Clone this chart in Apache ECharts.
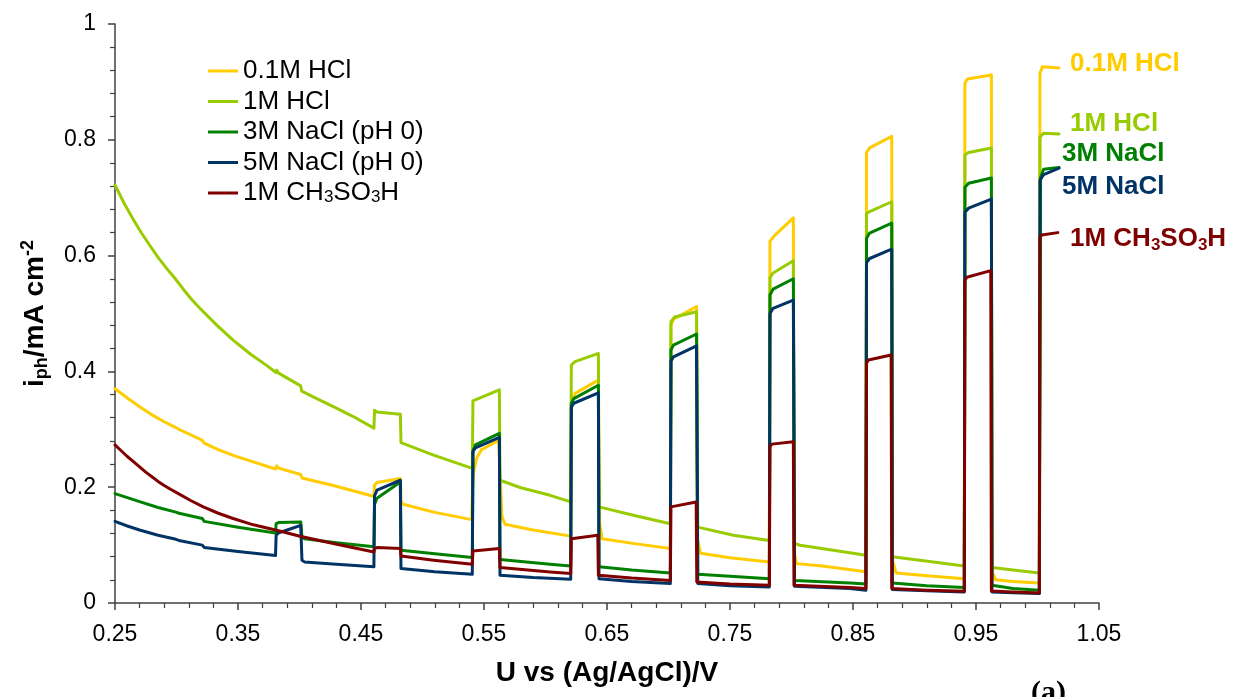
<!DOCTYPE html>
<html>
<head>
<meta charset="utf-8">
<script src="https://cdn.jsdelivr.net/npm/echarts@6/dist/echarts.min.js"></script>
<style>
  html, body { margin: 0; padding: 0; background: #ffffff; }
  #chart { width: 1233px; height: 697px; }
</style>
</head>
<body>
<div id="chart"></div>
<script>
// Chopped-light photocurrent scans: [potential (V vs Ag/AgCl), i_ph (mA cm^-2)]
const seriesNames = ['0.1M HCl', '1M HCl', '3M NaCl (pH 0)', '5M NaCl (pH 0)', '1M CH3SO3H'];
const seriesColors = ['#FFCC00', '#99CC00', '#008000', '#003366', '#800000'];
const xTicks = [0.25, 0.35, 0.45, 0.55, 0.65, 0.75, 0.85, 0.95, 1.05];
const yTicks = [0, 0.2, 0.4, 0.6, 0.8, 1];

const hcl01 = [
  [0.250, 0.370], [0.260, 0.354], [0.270, 0.339], [0.280, 0.325], [0.290, 0.313], [0.2995, 0.303], [0.300, 0.306], [0.302, 0.300],
  [0.311, 0.291], [0.321, 0.281], [0.3225, 0.276], [0.334, 0.265], [0.346, 0.255], [0.365, 0.242], [0.3805, 0.2315], [0.3815, 0.237],
  [0.383, 0.233], [0.401, 0.222], [0.402, 0.216], [0.4275, 0.203], [0.445, 0.193], [0.4605, 0.184],
  [0.461, 0.204], [0.463, 0.208], [0.482, 0.215], [0.4825, 0.178], [0.4835, 0.171], [0.509, 0.157], [0.540, 0.144],
  [0.541, 0.220], [0.544, 0.250], [0.548, 0.265], [0.562, 0.281], [0.5635, 0.200], [0.5645, 0.150], [0.567, 0.136],
  [0.590, 0.126], [0.6205, 0.1155],
  [0.621, 0.345], [0.624, 0.362], [0.643, 0.385], [0.6438, 0.140], [0.646, 0.111], [0.671, 0.103], [0.7015, 0.094],
  [0.702, 0.480], [0.704, 0.490], [0.7228, 0.512], [0.7235, 0.110], [0.726, 0.086], [0.750, 0.078], [0.782, 0.071],
  [0.7825, 0.625], [0.786, 0.634], [0.8015, 0.665], [0.802, 0.090], [0.804, 0.068], [0.825, 0.064], [0.8605, 0.054],
  [0.861, 0.778], [0.8635, 0.786], [0.8815, 0.806], [0.882, 0.075], [0.885, 0.052], [0.910, 0.047], [0.9405, 0.042],
  [0.941, 0.898], [0.943, 0.905], [0.9625, 0.912], [0.963, 0.055], [0.966, 0.040], [0.980, 0.037], [1.0015, 0.0346],
  [1.002, 0.915], [1.004, 0.926], [1.0175, 0.924]
];

const hcl1 = [
  [0.250, 0.722], [0.2575, 0.690], [0.265, 0.662], [0.2715, 0.639], [0.2785, 0.617], [0.285, 0.597], [0.292, 0.578],
  [0.299, 0.560], [0.3055, 0.542], [0.312, 0.525], [0.319, 0.509], [0.3327, 0.480], [0.346, 0.454], [0.360, 0.430],
  [0.3735, 0.410], [0.3808, 0.398], [0.3815, 0.402], [0.383, 0.397], [0.401, 0.375], [0.4018, 0.366], [0.414, 0.353],
  [0.4275, 0.339], [0.4437, 0.322], [0.4605, 0.302],
  [0.461, 0.333], [0.463, 0.330], [0.482, 0.326], [0.4825, 0.277], [0.509, 0.2555], [0.5405, 0.2325],
  [0.541, 0.349], [0.5425, 0.352], [0.5625, 0.368], [0.563, 0.212], [0.580, 0.199], [0.6037, 0.186], [0.6205, 0.1746],
  [0.621, 0.411], [0.624, 0.417], [0.643, 0.431], [0.6435, 0.166], [0.6714, 0.1516], [0.7015, 0.137],
  [0.702, 0.486], [0.705, 0.494], [0.7228, 0.503], [0.7238, 0.131], [0.7527, 0.117], [0.782, 0.108],
  [0.7825, 0.562], [0.785, 0.570], [0.8015, 0.591], [0.8025, 0.103], [0.8069, 0.0998], [0.834, 0.0911], [0.8605, 0.0825],
  [0.861, 0.673], [0.8635, 0.676], [0.8815, 0.693], [0.882, 0.080], [0.9153, 0.071], [0.9405, 0.064],
  [0.941, 0.774], [0.944, 0.778], [0.9625, 0.786], [0.963, 0.0612], [0.980, 0.057], [1.0015, 0.052],
  [1.002, 0.805], [1.005, 0.8115], [1.0175, 0.810]
];

const nacl3 = [
  [0.250, 0.189], [0.260, 0.182], [0.270, 0.175], [0.285, 0.165], [0.2995, 0.157], [0.300, 0.160], [0.302, 0.155], [0.321, 0.146],
  [0.3225, 0.141], [0.350, 0.131], [0.3805, 0.121],
  [0.381, 0.137], [0.383, 0.139], [0.401, 0.140], [0.402, 0.114], [0.404, 0.111], [0.430, 0.104], [0.4605, 0.097],
  [0.461, 0.170], [0.463, 0.181], [0.482, 0.209], [0.4825, 0.091], [0.510, 0.085], [0.5405, 0.0785],
  [0.541, 0.262], [0.543, 0.273], [0.5625, 0.293], [0.563, 0.075], [0.6037, 0.067], [0.6205, 0.064],
  [0.621, 0.345], [0.623, 0.353], [0.643, 0.376], [0.6435, 0.0625], [0.670, 0.057], [0.7015, 0.052],
  [0.702, 0.437], [0.704, 0.4455], [0.7228, 0.4646], [0.7238, 0.0496], [0.750, 0.046], [0.782, 0.042],
  [0.7825, 0.532], [0.785, 0.542], [0.8015, 0.560], [0.8025, 0.039], [0.8476, 0.0345], [0.8605, 0.033],
  [0.861, 0.630], [0.8635, 0.639], [0.8815, 0.656], [0.882, 0.0346], [0.910, 0.030], [0.9405, 0.0266],
  [0.941, 0.718], [0.944, 0.725], [0.9625, 0.734], [0.963, 0.0306], [0.980, 0.025], [1.0015, 0.022],
  [1.0025, 0.735], [1.005, 0.749], [1.0175, 0.752]
];

const nacl5 = [
  [0.250, 0.141], [0.260, 0.133], [0.270, 0.126], [0.285, 0.117], [0.2995, 0.110], [0.300, 0.113], [0.302, 0.108], [0.321, 0.100],
  [0.3225, 0.096], [0.350, 0.089], [0.3805, 0.082],
  [0.381, 0.117], [0.383, 0.121], [0.390, 0.126], [0.401, 0.134], [0.402, 0.074], [0.404, 0.071], [0.430, 0.067], [0.4605, 0.0625],
  [0.461, 0.185], [0.463, 0.195], [0.482, 0.212], [0.4825, 0.0594], [0.510, 0.054], [0.5405, 0.0496],
  [0.541, 0.262], [0.543, 0.268], [0.5625, 0.286], [0.563, 0.048], [0.590, 0.044], [0.6205, 0.041],
  [0.621, 0.338], [0.623, 0.345], [0.643, 0.363], [0.6435, 0.042], [0.670, 0.037], [0.7015, 0.0335],
  [0.702, 0.418], [0.704, 0.425], [0.7228, 0.444], [0.7238, 0.0335], [0.750, 0.030], [0.782, 0.0277],
  [0.7825, 0.500], [0.785, 0.509], [0.8015, 0.523], [0.8025, 0.029], [0.8476, 0.025], [0.8605, 0.022],
  [0.861, 0.588], [0.8635, 0.595], [0.8815, 0.611], [0.882, 0.0232], [0.910, 0.021], [0.9405, 0.019],
  [0.941, 0.675], [0.944, 0.682], [0.9625, 0.6975], [0.963, 0.019], [0.980, 0.0175], [1.0015, 0.0162],
  [1.002, 0.730], [1.005, 0.740], [1.0175, 0.751]
];

const ch3so3h = [
  [0.250, 0.273], [0.255, 0.263], [0.260, 0.253], [0.265, 0.244], [0.270, 0.235], [0.275, 0.226], [0.280, 0.218],
  [0.285, 0.210], [0.290, 0.203], [0.2955, 0.196], [0.3015, 0.189], [0.3115, 0.177], [0.3218, 0.166], [0.334, 0.155],
  [0.346, 0.146], [0.3625, 0.135], [0.3814, 0.1257], [0.4004, 0.1153], [0.4275, 0.1027], [0.4605, 0.088],
  [0.461, 0.094], [0.463, 0.0958], [0.482, 0.094], [0.4825, 0.081], [0.509, 0.074], [0.5405, 0.0669],
  [0.541, 0.090], [0.5425, 0.0925], [0.5625, 0.094], [0.563, 0.0612], [0.6037, 0.0536], [0.6205, 0.0508],
  [0.621, 0.111], [0.6225, 0.113], [0.6425, 0.117], [0.643, 0.048], [0.670, 0.043], [0.7015, 0.039],
  [0.702, 0.166], [0.7035, 0.169], [0.7225, 0.1746], [0.723, 0.0363], [0.750, 0.033], [0.782, 0.0306],
  [0.7825, 0.270], [0.784, 0.2744], [0.8015, 0.2784], [0.802, 0.0306], [0.8476, 0.0266], [0.8605, 0.025],
  [0.861, 0.414], [0.8625, 0.4196], [0.881, 0.4283], [0.8815, 0.0249], [0.910, 0.022], [0.9405, 0.0202],
  [0.941, 0.557], [0.9425, 0.5625], [0.962, 0.574], [0.9625, 0.0207], [0.980, 0.019], [1.0015, 0.0173],
  [1.002, 0.632], [1.0035, 0.6357], [1.0165, 0.6397]
];

const seriesData = [hcl01, hcl1, nacl3, nacl5, ch3so3h];

// Labels at the right end of each curve
const endLabels = [
  { text: '0.1M HCl', left: 1070, top: 49 },
  { text: '1M HCl', left: 1070, top: 109 },
  { text: '3M NaCl', left: 1062, top: 139 },
  { text: '5M NaCl', left: 1062, top: 172 },
  { text: '1M CH{s|3}SO{s|3}H', left: 1070, top: 224 }
];

const FONT = 'Liberation Sans, Arial, sans-serif';
const axisColor = '#404040';

const chart = echarts.init(document.getElementById('chart'), null, { renderer: 'canvas' });

const legendRich = {
  s: { fontSize: 17, fontFamily: FONT, color: '#000', lineHeight: 12, verticalAlign: 'bottom' }
};

chart.setOption({
  animation: false,
  backgroundColor: '#ffffff',
  grid: { left: 115, right: 134, top: 24, bottom: 94, containLabel: false },
  legend: {
    orient: 'vertical',
    left: 208,
    top: 58,
    padding: 0,
    itemWidth: 30,
    itemHeight: 14,
    itemGap: 4.5,
    icon: 'path://M0,5.5L30,5.5L30,8.5L0,8.5Z',
    data: seriesNames,
    formatter: function (name) {
      return name === '1M CH3SO3H' ? '1M CH{s|3}SO{s|3}H' : name;
    },
    textStyle: {
      fontSize: 26, fontFamily: FONT, color: '#000', lineHeight: 26, padding: [0, 0, 0, 0],
      rich: legendRich
    }
  },
  xAxis: {
    type: 'value',
    min: 0.25,
    max: 1.05,
    interval: 0.1,
    name: 'U vs (Ag/AgCl)/V',
    nameLocation: 'middle',
    nameGap: 56,
    nameTextStyle: { fontSize: 28, fontWeight: 'bold', fontFamily: FONT, color: '#000' },
    axisLine: { show: true, onZero: false, lineStyle: { color: axisColor, width: 1.5 } },
    axisTick: { show: true, length: 7, lineStyle: { color: axisColor, width: 1.5 } },
    minorTick: { show: true, splitNumber: 5, length: 5, lineStyle: { color: axisColor, width: 1.2 } },
    splitLine: { show: false },
    axisLabel: {
      margin: 20, fontSize: 23, fontFamily: FONT, color: '#000',
      formatter: function (v) { return v.toFixed(2); }
    }
  },
  yAxis: {
    type: 'value',
    min: 0,
    max: 1,
    interval: 0.2,
    name: '{m|i}{s|ph}{m|/mA cm}{p|-2}',
    nameLocation: 'middle',
    nameRotate: 90,
    nameGap: 64,
    nameTextStyle: {
      rich: {
        m: { fontSize: 28, fontWeight: 'bold', fontFamily: FONT, color: '#000', lineHeight: 32 },
        s: { fontSize: 18, fontWeight: 'bold', fontFamily: FONT, color: '#000', lineHeight: 14, verticalAlign: 'bottom' },
        p: { fontSize: 18, fontWeight: 'bold', fontFamily: FONT, color: '#000', lineHeight: 14, verticalAlign: 'top' }
      }
    },
    axisLine: { show: true, lineStyle: { color: axisColor, width: 1.5 } },
    axisTick: { show: true, length: 7, lineStyle: { color: axisColor, width: 1.5 } },
    minorTick: { show: true, splitNumber: 5, length: 5, lineStyle: { color: axisColor, width: 1.2 } },
    splitLine: { show: false },
    axisLabel: {
      margin: 19, fontSize: 23, fontFamily: FONT, color: '#000',
      formatter: function (v) { return String(+v.toFixed(1)); }
    }
  },
  series: seriesNames.map(function (name, i) {
    return {
      name: name,
      type: 'line',
      data: seriesData[i],
      symbol: 'none',
      showSymbol: false,
      smooth: false,
      color: seriesColors[i],
      lineStyle: { color: seriesColors[i], width: 3, join: 'round', cap: 'round' },
      z: 2 + i
    };
  }),
  graphic: endLabels.map(function (lab, i) {
    return {
      type: 'text',
      left: lab.left,
      top: lab.top,
      z: 100,
      style: {
        text: lab.text,
        fill: seriesColors[i],
        fontSize: 26,
        fontWeight: 'bold',
        fontFamily: FONT,
        lineHeight: 30,
        rich: {
          s: { fontSize: 17, fontWeight: 'bold', fontFamily: FONT, fill: seriesColors[i], lineHeight: 14, verticalAlign: 'bottom' }
        }
      }
    };
  }).concat([{
    type: 'text',
    left: 1031,
    top: 678,
    z: 100,
    style: {
      text: '(a)',
      fill: '#000',
      fontSize: 30,
      fontWeight: 'bold',
      fontFamily: 'Liberation Serif, Times New Roman, serif'
    }
  }])
});
</script>
</body>
</html>
